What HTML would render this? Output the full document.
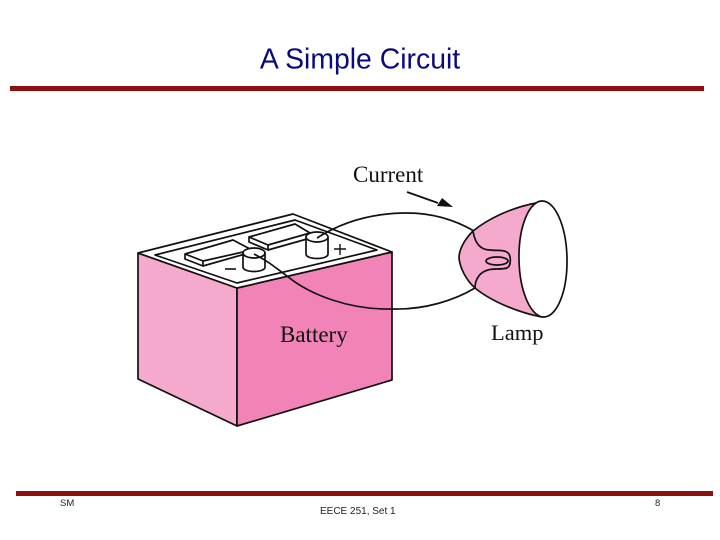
<!DOCTYPE html>
<html>
<head>
<meta charset="utf-8">
<style>
html,body{margin:0;padding:0;background:#fff;}
svg{display:block;}
</style>
</head>
<body>
<svg width="720" height="540" viewBox="0 0 720 540" xmlns="http://www.w3.org/2000/svg">
<rect width="720" height="540" fill="#fff"/>
<text x="360" y="68.500" text-anchor="middle" font-family="Liberation Sans, sans-serif" font-size="28.400" fill="#0a0a80">A Simple Circuit</text>
<rect x="10" y="86" width="694" height="5" fill="#8b1010"/>
<rect x="16" y="491" width="697" height="5" fill="#8b1010"/>
<text x="60" y="506" font-family="Liberation Sans, sans-serif" font-size="9.500" fill="#222">SM</text>
<text x="320" y="514" font-family="Liberation Sans, sans-serif" font-size="10" fill="#222">EECE 251, Set 1</text>
<text x="655" y="506" font-family="Liberation Sans, sans-serif" font-size="9.500" fill="#222">8</text>

<!-- battery -->
<g stroke="#111" stroke-width="1.700" stroke-linejoin="round" fill="none">
<polygon points="138,253 237,288 237,426 138,379" fill="#f5a9cd"/>
<polygon points="237,288 392,252 392,380 237,426" fill="#f183b7"/>
<polygon points="138,253 293,214 392,252 237,288" fill="#fff"/>
<polygon points="155,255 295,220 377,250 237,283" fill="#fff"/>
<!-- left plate -->
<polygon points="185,254 233,240 252,250 203,261" fill="#fff"/>
<polyline points="185,254 185,259 203,266 203,261"/>
<polyline points="203,266 245,254"/>
<!-- right plate -->
<polygon points="249,237 295,224 310,233 268,245" fill="#fff"/>
<polyline points="249,237 249,242 268,250 268,245"/>
<polyline points="268,250 307,239"/>
<!-- minus cylinder -->
<path d="M243,253 V267 C243,273 265,273 265,267 V253" fill="#fff"/>
<ellipse cx="254" cy="253" rx="11" ry="5" fill="#fff"/>
<!-- plus cylinder -->
<path d="M306,237 V254 C306,260 328,260 328,254 V237" fill="#fff"/>
<ellipse cx="317" cy="237" rx="11" ry="5" fill="#fff"/>
<!-- signs -->
<path d="M225,269 H236" stroke-width="1.600"/>
<path d="M334,249 H346 M340,244 V255" stroke-width="1.400"/>
<!-- wires -->
<path d="M317,238 C345,220 375,213 407,213 C432,213 455,220 474,231"/>
<path d="M254,254 C268,261 276,268 287,276 C310,295 350,310 392,309 C425,310 455,300 475,288"/>
</g>

<!-- lamp -->
<g stroke="#111" stroke-width="1.700" fill="none">
<path d="M536,203 C510,208 488,219 473,231 C464,240 459,250 459,258 C460,268 466,280 475,288 C492,302 520,313 542,317 Z" fill="#f5a9cd" stroke-linejoin="round"/>
<ellipse cx="543" cy="259" rx="24" ry="58" fill="#fff" transform="rotate(-1 543 259)"/>
<path d="M473,231 C475,244 481,250 490,250 C498,251 505,249 509,254 C511,258 511,266 507,268 C500,270 494,268 488,270 C480,272 475,279 475,288"/>
<ellipse cx="497" cy="261" rx="11" ry="4"/>
</g>

<!-- arrow -->
<path d="M407,192 L438,203" stroke="#111" stroke-width="1.900" fill="none"/>
<polygon points="453,207 442,198 437,206" fill="#111"/>

<g font-family="Liberation Serif, serif" fill="#111">
<text x="353" y="182" font-size="23">Current</text>
<text x="491" y="340" font-size="22.500">Lamp</text>
<text x="280" y="342" font-size="23">Battery</text>
</g>
</svg>
</body>
</html>
